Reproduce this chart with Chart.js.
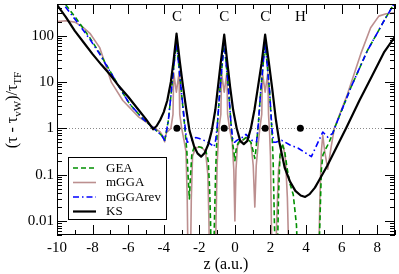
<!DOCTYPE html>
<html>
<head>
<meta charset="utf-8">
<script src="https://cdn.jsdelivr.net/npm/chart.js@4.4.0/dist/chart.umd.min.js"></script>
<style>
  body { margin: 0; background: #fff; }
</style>
</head>
<body>
<canvas id="chart" width="399" height="274"></canvas>
<script>
// [z (a.u.), (tau - tau_vW)/tau_TF]
const KS = [
  [-10, 457], [-9.5, 251], [-9, 126], [-8.5, 70.8], [-8, 39.8], [-7.5, 23.4], [-7, 14.1],
  [-6.5, 7.94], [-6, 4.79], [-5.5, 2.75], [-5, 1.58], [-4.6, 0.955], [-4.4, 1.12],
  [-4.2, 1.51], [-4.0, 2.24], [-3.8, 3.98], [-3.6, 10], [-3.45, 28.2], [-3.28, 110],
  [-3.1, 28.2], [-2.95, 10], [-2.75, 2.82], [-2.55, 0.891], [-2.3, 0.417], [-2.1, 0.288],
  [-1.9, 0.245], [-1.7, 0.295], [-1.5, 0.447], [-1.3, 0.891], [-1.1, 2.51], [-0.95, 7.94],
  [-0.8, 25.1], [-0.6, 105], [-0.42, 25.1], [-0.27, 7.94], [-0.1, 2.51], [0.1, 1.0],
  [0.3, 0.537], [0.5, 0.457], [0.7, 0.537], [0.9, 1.0], [1.1, 2.51], [1.3, 7.94],
  [1.5, 25.1], [1.7, 105], [1.9, 28.2], [2.1, 7.08], [2.3, 1.58], [2.5, 0.501],
  [2.8, 0.141], [3.1, 0.0708], [3.4, 0.0447], [3.7, 0.0355], [3.95, 0.0331], [4.2, 0.038],
  [4.5, 0.0525], [4.75, 0.0776], [5.2, 0.158], [5.7, 0.38], [6.25, 1.0], [7.0, 3.98],
  [7.7, 13.2], [8.4, 44.7], [9.0, 95.5]
];

const mGGArev = [
  [-10, 708], [-9.63, 468], [-8.9, 204], [-8.15, 83.2], [-7.6, 39.8], [-7.04, 17.4],
  [-6.48, 7.59], [-5.93, 3.39], [-5.18, 1.62], [-4.44, 0.912], [-4.1, 0.692], [-3.95, 0.55],
  [-3.85, 0.85], [-3.74, 1.48], [-3.55, 7.59], [-3.43, 22.4], [-3.29, 75.9], [-3.15, 22.4],
  [-3.03, 7.59], [-2.84, 1.48], [-2.76, 0.79], [-2.68, 0.5], [-2.5, 0.525], [-2.2, 0.631],
  [-2.0, 0.603], [-1.54, 0.513], [-1.17, 0.398], [-1.08, 0.56], [-0.98, 1.26], [-0.85, 6.3],
  [-0.72, 22.4], [-0.6, 75.9], [-0.48, 22.4], [-0.35, 6.3], [-0.22, 1.26], [-0.12, 0.56],
  [-0.02, 0.5], [0.11, 0.55], [0.4, 0.631], [0.62, 0.741], [0.96, 0.55], [1.22, 0.513],
  [1.32, 1.26], [1.45, 6.3], [1.58, 22.4], [1.7, 75.9], [1.82, 22.4], [1.95, 6.3],
  [2.08, 1.0], [2.18, 0.5], [2.3, 0.501], [2.63, 0.55], [3.1, 0.437], [3.56, 0.372],
  [4.3, 0.245], [4.94, 0.832], [5.22, 0.646], [5.5, 0.78], [5.6, 1.0], [6.52, 7.59],
  [7.44, 46.8], [8.37, 204], [9.0, 525]
];

const GEA = [
  [-10, 891], [-9.7, 575], [-8.9, 229], [-8.15, 89.1], [-7.6, 41.7], [-7.04, 17.8],
  [-6.48, 7.59], [-5.93, 3.39], [-5.18, 1.62], [-4.44, 0.912], [-4.1, 0.692], [-3.95, 0.55],
  [-3.85, 0.85], [-3.74, 1.48], [-3.55, 7.59], [-3.43, 22.4], [-3.29, 70.8], [-3.15, 22.4],
  [-3.03, 7.59], [-2.84, 1.3], [-2.76, 0.6], [-2.7, 0.316], [-2.62, 0.0794], [-2.56, 0.03],
  [-2.5, 0.0891], [-2.42, 0.282], [-2.3, 0.38], [-2.0, 0.398], [-1.65, 0.35], [-1.5, 0.2],
  [-1.42, 0.05], [-1.37, 0.01], [-1.32, 0.001], [-1.2, 0.001], [-1.15, 0.01], [-1.08, 0.126],
  [-0.98, 1.26], [-0.85, 6.3], [-0.72, 22.4], [-0.6, 70.8], [-0.48, 22.4], [-0.35, 6.3],
  [-0.22, 1.26], [-0.12, 0.45], [-0.05, 0.3], [0.0, 0.2], [0.07, 0.35], [0.2, 0.5],
  [0.4, 0.537], [0.62, 0.631], [0.9, 0.5], [1.03, 0.316], [1.12, 0.224], [1.2, 0.4],
  [1.32, 1.26], [1.45, 6.3], [1.58, 22.4], [1.7, 70.8], [1.82, 22.4], [1.95, 6.3],
  [2.08, 0.9], [2.15, 0.2], [2.22, 0.01], [2.28, 0.001], [2.38, 0.001], [2.45, 0.0316],
  [2.53, 0.251], [2.65, 0.468], [2.8, 0.316], [2.95, 0.126], [3.1, 0.0631], [3.28, 0.0372],
  [3.46, 0.0083], [3.55, 0.001], [4.7, 0.001], [4.78, 0.01], [4.86, 0.126], [4.95, 0.269],
  [5.1, 0.355], [5.3, 0.501], [5.5, 0.78], [5.6, 1.0], [6.52, 7.59], [7.44, 46.8],
  [8.37, 204], [9.0, 525]
];

const mGGA = [
  [-10, 200], [-9.5, 209], [-9.0, 195], [-8.6, 158], [-8.15, 112], [-7.6, 55], [-6.94, 9.77],
  [-6.3, 3.98], [-5.4, 1.74], [-4.6, 1.07], [-4.2, 0.832], [-4.05, 0.676], [-3.95, 0.513],
  [-3.85, 0.8], [-3.6, 1.0], [-3.48, 2.0], [-3.44, 15.8], [-3.29, 6.03], [-3.14, 15.8],
  [-3.1, 2.0], [-2.99, 1.0], [-2.84, 0.5], [-2.75, 0.316], [-2.68, 0.0316], [-2.63, 0.001],
  [-2.5, 0.001], [-2.45, 0.0316], [-2.38, 0.251], [-2.2, 0.38], [-1.9, 0.398], [-1.65, 0.316],
  [-1.52, 0.1], [-1.46, 0.01], [-1.42, 0.001], [-1.1, 0.001], [-1.06, 0.01], [-1.0, 0.158],
  [-0.9, 1.0], [-0.79, 2.0], [-0.75, 15.8], [-0.6, 6.03], [-0.45, 15.8], [-0.41, 2.0],
  [-0.3, 1.0], [-0.15, 0.501], [-0.06, 0.126], [0.0, 0.01], [0.06, 0.126], [0.15, 0.447],
  [0.4, 0.537], [0.62, 0.631], [0.9, 0.501], [1.03, 0.158], [1.12, 0.02], [1.2, 0.158],
  [1.32, 0.501], [1.4, 1.0], [1.51, 2.0], [1.55, 15.8], [1.7, 6.03], [1.85, 15.8],
  [1.89, 2.0], [1.95, 0.8], [2.0, 0.251], [2.05, 0.01], [2.1, 0.001], [2.28, 0.001],
  [2.35, 0.01], [2.45, 0.126], [2.6, 0.355], [2.72, 0.427], [2.85, 0.2], [2.95, 0.0316],
  [3.05, 0.001], [4.7, 0.001], [4.78, 0.0316], [4.86, 0.316], [4.94, 0.708], [5.05, 0.316],
  [5.22, 0.132], [5.41, 0.398], [5.59, 1.0], [6.33, 5.5], [7.07, 39.8], [7.63, 148],
  [8.09, 263], [8.5, 295], [9.0, 309]
];

const atomNames = ["C", "C", "C", "H"];
const atomZ = [-3.26, -0.6, 1.7, 3.68];
const refLevel = 1;

const xTicks = [-10, -8, -6, -4, -2, 0, 2, 4, 6, 8];
const yTicks = [0.01, 0.1, 1, 10, 100];
const yLabels = ["0.01", "0.1", "1", "10", "100"];

const serif = '"Liberation Serif", "DejaVu Serif", serif';

const series = [
    { label: "GEA", data: GEA, color: "#009000", width: 1.6, dash: [5, 3], order: 2 },
    { label: "mGGA", data: mGGA, color: "#bc8f8f", width: 1.6, dash: [], order: 3 },
    { label: "mGGArev", data: mGGArev, color: "#0000ff", width: 1.6, dash: [6, 3, 1.5, 3], order: 1 },
    { label: "KS", data: KS, color: "#000000", width: 2.2, dash: [], order: 0 },
];

const decor = {
    id: "decor",
    beforeDatasetsDraw(chart) {
        const { ctx, chartArea: a, scales } = chart;
        const py = Math.round(scales.y.getPixelForValue(refLevel)) + 0.5;
        ctx.save();
        ctx.strokeStyle = "#8a8a8a";
        ctx.lineWidth = 1;
        ctx.setLineDash([1, 2]);
        ctx.beginPath();
        ctx.moveTo(a.left, py);
        ctx.lineTo(a.right, py);
        ctx.stroke();
        ctx.restore();
    },
    afterDatasetsDraw(chart) {
        const { ctx, chartArea: a, scales } = chart;
        const x = scales.x, y = scales.y;
        ctx.save();
        ctx.strokeStyle = "#000";
        ctx.lineWidth = 1;

        // ticks on all four sides, pointing inwards
        ctx.beginPath();
        for (let v = -10; v <= 9; v++) {
            const px = Math.round(x.getPixelForValue(v)) + 0.5;
            const len = v % 2 === 0 ? 10 : 5;
            ctx.moveTo(px, a.bottom); ctx.lineTo(px, a.bottom - len);
            ctx.moveTo(px, a.top); ctx.lineTo(px, a.top + len);
        }
        for (let d = 0.001; d <= 1000; d *= 10) {
            for (let k = 1; k <= 9; k++) {
                const v = d * k;
                if (v < y.min || v > y.max) continue;
                const py = Math.round(y.getPixelForValue(v)) + 0.5;
                const len = k === 1 ? 10 : 5;
                ctx.moveTo(a.left, py); ctx.lineTo(a.left + len, py);
                ctx.moveTo(a.right, py); ctx.lineTo(a.right - len, py);
            }
        }
        ctx.stroke();
        ctx.strokeRect(a.left + 0.5, a.top + 0.5, a.right - a.left - 1, a.bottom - a.top - 1);

        // atom labels
        ctx.fillStyle = "#000";
        ctx.font = "15px " + serif;
        ctx.textAlign = "center";
        ctx.textBaseline = "middle";
        atomNames.forEach((n, i) => ctx.fillText(n, x.getPixelForValue(atomZ[i]), 17));

        // legend
        const lx = 68.5, ly = 157.5;
        ctx.fillStyle = "#fff";
        ctx.fillRect(lx, ly, 98, 62);
        ctx.strokeRect(lx, ly, 98, 62);
        ctx.font = "13px " + serif;
        ctx.textAlign = "left";
        series.forEach((s, i) => {
            const ry = 168 + i * 14.5;
            ctx.save();
            ctx.strokeStyle = s.color;
            ctx.lineWidth = s.width;
            ctx.setLineDash(s.dash);
            ctx.beginPath();
            ctx.moveTo(73, ry);
            ctx.lineTo(96, ry);
            ctx.stroke();
            ctx.restore();
            ctx.fillStyle = "#000";
            ctx.fillText(s.label, 106, ry + 0.5);
        });

        // y axis title with subscripts
        const parts = [["(τ - τ", 0], ["vW", 1], [")/τ", 0], ["TF", 1]];
        const big = "16px " + serif, small = "11px " + serif;
        let total = 0;
        parts.forEach(([t, sub]) => { ctx.font = sub ? small : big; total += ctx.measureText(t).width; });
        ctx.translate(12, 110);
        ctx.rotate(-Math.PI / 2);
        ctx.textAlign = "left";
        ctx.textBaseline = "alphabetic";
        let cx = -total / 2;
        parts.forEach(([t, sub]) => {
            ctx.font = sub ? small : big;
            ctx.fillText(t, cx, sub ? 9 : 5);
            cx += ctx.measureText(t).width;
        });
        ctx.restore();

        // x axis title
        ctx.save();
        ctx.fillStyle = "#000";
        ctx.font = "16px " + serif;
        ctx.textAlign = "center";
        ctx.textBaseline = "middle";
        ctx.fillText("z (a.u.)", (a.left + a.right) / 2, 265);
        ctx.restore();
    },
};

const datasets = series.map((s) => ({
    label: s.label,
    data: s.data.map(([z, v]) => ({ x: z, y: v })),
    borderColor: s.color,
    borderWidth: s.width,
    borderDash: s.dash,
    borderJoinStyle: "round",
    pointRadius: 0,
    fill: false,
    tension: 0,
    order: s.order,
}));

datasets.push({
    type: "scatter",
    label: "atoms",
    data: atomZ.map((z) => ({ x: z, y: refLevel })),
    pointRadius: 3.5,
    backgroundColor: "#000",
    borderWidth: 0,
    order: -1,
});

new Chart(document.getElementById("chart"), {
    type: "line",
    data: { datasets },
    options: {
        responsive: false,
        animation: false,
        devicePixelRatio: 1,
        layout: { padding: { top: 2, right: 2, left: 0, bottom: 0 } },
        plugins: {
            legend: { display: false },
            tooltip: { enabled: false },
        },
        scales: {
            x: {
                type: "linear",
                min: -10,
                max: 9,
                afterFit: (s) => {
                    s.height = 39;
                    s.paddingLeft = 0;
                    s.paddingRight = 0;
                },
                afterBuildTicks: (s) => { s.ticks = xTicks.map((v) => ({ value: v })); },
                grid: { display: false, drawTicks: false },
                border: { display: false },
                ticks: {
                    color: "#000",
                    font: { family: serif, size: 15 },
                    padding: 4,
                    maxRotation: 0,
                    autoSkip: false,
                    callback: (v) => String(v),
                },
            },
            y: {
                type: "logarithmic",
                min: 0.005,
                max: 480,
                afterFit: (s) => {
                    s.width = 57;
                    s.paddingTop = 0;
                    s.paddingBottom = 0;
                },
                afterBuildTicks: (s) => { s.ticks = yTicks.map((v) => ({ value: v })); },
                grid: { display: false, drawTicks: false },
                border: { display: false },
                ticks: {
                    color: "#000",
                    font: { family: serif, size: 15 },
                    padding: 3,
                    autoSkip: false,
                    callback: (v, i) => yLabels[i],
                },
            },
        },
    },
    plugins: [decor],
});
</script>
</body>
</html>
